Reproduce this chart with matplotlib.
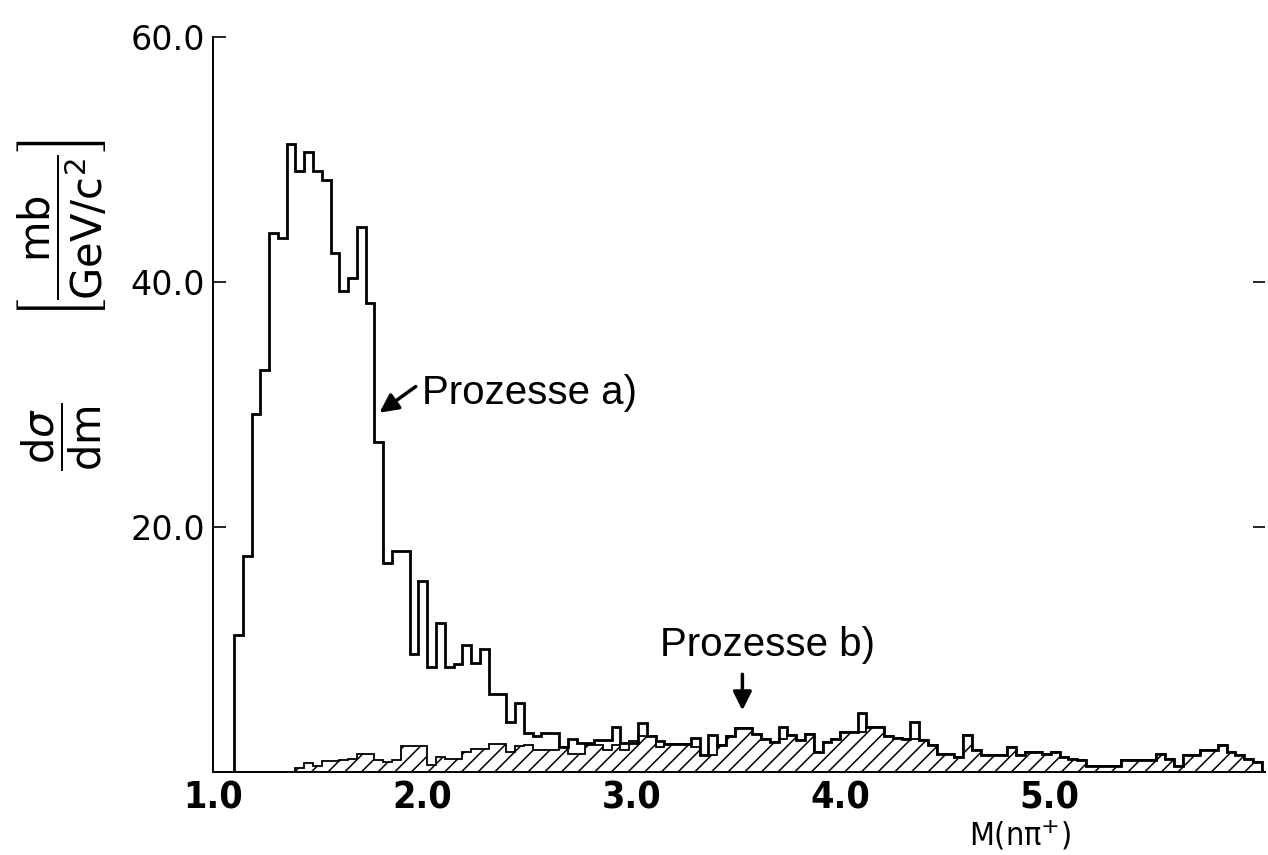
import numpy as np
import matplotlib
matplotlib.use('Agg')
import matplotlib.pyplot as plt

# bin layout of the histograms (GeV/c^2)
bin_start = 1.10
bin_width = 0.042

# Prozesse a) : open histogram
counts_a = [11.2, 17.6, 29.2, 32.8, 44.0, 43.6, 51.3, 49.1, 50.6, 49.1,
            48.3, 42.4, 39.3, 40.3, 44.5, 38.3, 26.9, 17.1, 18.0, 18.0,
            9.6, 15.6, 8.6, 12.2, 8.6, 8.8, 10.4, 8.9, 10.0, 6.4,
            6.4, 4.1, 5.6, 3.2, 2.9, 3.2, 3.2, 2.0, 2.7, 2.4,
            2.4, 2.6, 2.6, 3.7, 2.4, 2.4, 4.0, 2.9, 2.5, 2.3,
            2.3, 2.3, 2.8, 1.4, 3.0, 2.2, 2.9, 3.6, 3.6, 3.1,
            2.7, 2.45, 3.7, 3.0, 2.6, 3.1, 1.6, 2.45, 2.7, 3.3,
            3.3, 4.8, 3.7, 3.7, 2.9, 2.8, 2.7, 4.1, 2.6, 2.2,
            1.5, 1.5, 1.2, 3.0, 1.8, 1.4, 1.4, 1.4, 2.0, 1.4,
            1.6, 1.6, 1.5, 1.6, 1.2, 1.1, 1.0, 0.5, 0.5, 0.5,
            0.5, 1.0, 1.0, 1.0, 1.0, 1.5, 1.1, 0.5, 1.4, 1.4,
            1.8, 1.8, 2.2, 1.6, 1.4, 1.1, 0.8]

# Prozesse b) : hatched histogram
counts_b = [0, 0, 0, 0, 0, 0, 0, 0.3, 0.7, 0.5,
            0.9, 0.9, 1.0, 1.1, 1.5, 1.5, 1.0, 0.8, 1.0, 2.1,
            2.1, 2.1, 0.6, 1.2, 1.1, 1.1, 1.6, 1.9, 1.9, 2.3,
            2.3, 1.6, 2.1, 2.2, 1.8, 1.8, 1.8, 2.0, 1.5, 1.5,
            2.2, 2.2, 1.8, 2.2, 1.8, 2.5, 2.9, 2.9, 2.0, 2.3,
            2.3, 2.3, 2.0, 1.4, 1.4, 2.2, 2.9, 3.6, 3.6, 3.1,
            2.7, 2.45, 2.7, 3.0, 2.6, 3.1, 1.6, 2.45, 2.7, 3.3,
            3.3, 3.3, 3.7, 3.7, 2.9, 2.8, 2.7, 2.7, 2.6, 2.2,
            1.5, 1.5, 1.2, 3.0, 1.8, 1.4, 1.4, 1.4, 2.0, 1.4,
            1.6, 1.6, 1.5, 1.6, 1.2, 1.1, 1.0, 0.5, 0.5, 0.5,
            0.5, 1.0, 1.0, 1.0, 1.0, 1.5, 1.1, 0.5, 1.4, 1.4,
            1.8, 1.8, 2.2, 1.6, 1.4, 1.1, 0.8]

xticks = [1.0, 2.0, 3.0, 4.0, 5.0]
yticks = [20.0, 40.0, 60.0]

edges = bin_start + bin_width * np.arange(len(counts_a) + 1)

plt.rcParams['hatch.linewidth'] = 1.1
plt.rcParams['mathtext.fontset'] = 'dejavusans'

fig = plt.figure(figsize=(12.68, 8.55), dpi=100)
ax = fig.add_axes([0.168, 0.0971, 0.8297, 0.8596])

ax.stairs(counts_b, edges, fill=True, facecolor='white', edgecolor='black',
          hatch='//', linewidth=1.3, zorder=2)
ax.stairs(counts_a, edges, color='black', linewidth=2.0, zorder=3)

ax.set_xlim(1.0, 6.03)
ax.set_ylim(0, 60)

for s in ['top', 'right']:
    ax.spines[s].set_visible(False)
ax.spines['left'].set_linewidth(1.4)
ax.spines['bottom'].set_linewidth(1.4)

ax.set_xticks(xticks)
ax.set_xticklabels(['%.1f' % v for v in xticks], family='DejaVu Sans',
                   fontstretch='condensed', fontsize=27, fontweight='bold')
ax.tick_params(axis='x', length=0, pad=6)
ax.set_yticks(yticks)
ax.set_yticklabels(['%.1f' % v for v in yticks], fontsize=24)
ax.tick_params(axis='y', direction='in', length=9, width=1.2, pad=6,
               right=True)
ax.yaxis.get_major_ticks()[2].tick2line.set_visible(False)

ax.text(2.0, 30.9, 'Prozesse a)', fontsize=29, family=['Liberation Sans', 'DejaVu Sans'],
        va='center', ha='left')
ax.annotate('', xy=(1.785, 29.2), xytext=(1.98, 31.6),
            arrowprops=dict(arrowstyle='-|>', color='black', lw=2.5, mutation_scale=28))
ax.text(3.65, 10.4, 'Prozesse b)', fontsize=29, family=['Liberation Sans', 'DejaVu Sans'],
        va='center', ha='center')
ax.annotate('', xy=(3.531, 4.8), xytext=(3.531, 8.2),
            arrowprops=dict(arrowstyle='-|>', color='black', lw=2.5, mutation_scale=28))

fig.text(1020 / 1268, 1 - 835 / 855, 'M(nπ$^{+}$)', fontsize=23,
         family='DejaVu Sans', fontstretch='condensed', ha='center', va='center')

# y label: d sigma / dm  [ mb / GeV/c^2 ]
fig.text(62 / 1268, 1 - 437 / 855, r'$\dfrac{\mathrm{d}\sigma}{\mathrm{dm}}$',
         rotation=90, fontsize=30, ha='center', va='center')
fig.text(62 / 1268, 1 - 228 / 855,
         r'$\left[\dfrac{\mathrm{mb}}{\mathrm{GeV/c}^{2}}\right]$',
         rotation=90, fontsize=30, ha='center', va='center')

fig.savefig('out.png', dpi=100)
